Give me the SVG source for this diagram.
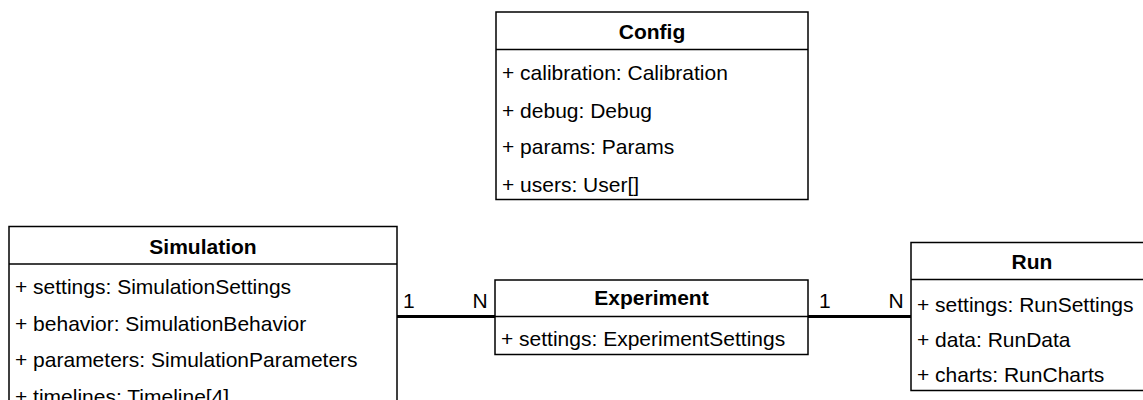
<svg xmlns="http://www.w3.org/2000/svg" width="1143" height="400" viewBox="0 0 1143 400">
<style>
.box{fill:#fff;stroke:#000;stroke-width:1.5}
.div{stroke:#000;stroke-width:1.5}
.t{font-family:"Liberation Sans",Arial,sans-serif;font-size:21px;fill:#000}
.h{font-family:"Liberation Sans",Arial,sans-serif;font-size:21px;font-weight:bold;fill:#000;text-anchor:middle}
.conn{stroke:#000;stroke-width:3;fill:none}
</style>
<rect width="1143" height="400" fill="#fff"/>
<g id="connectors">
<line class="conn" x1="397" y1="316.5" x2="495" y2="316.5"/>
<line class="conn" x1="808" y1="316.5" x2="911" y2="316.5"/>
<text class="t" x="403" y="308">1</text>
<text class="t" x="472.5" y="308">N</text>
<text class="t" x="819" y="308">1</text>
<text class="t" x="888.5" y="308">N</text>
</g>
<g id="config">
<rect class="box" x="496" y="12" width="312" height="187.5"/>
<line class="div" x1="496" y1="49.5" x2="808" y2="49.5"/>
<text class="h" x="652" y="39">Config</text>
<text class="t" x="502" y="80">+ calibration: Calibration</text>
<text class="t" x="502" y="117.5">+ debug: Debug</text>
<text class="t" x="502" y="154">+ params: Params</text>
<text class="t" x="502" y="191.5">+ users: User[]</text>
</g>
<g id="simulation">
<rect class="box" x="9" y="226.5" width="388" height="190"/>
<line class="div" x1="9" y1="264" x2="397" y2="264"/>
<text class="h" x="203" y="253.5">Simulation</text>
<text class="t" x="15" y="293.5">+ settings: SimulationSettings</text>
<text class="t" x="15" y="330.5">+ behavior: SimulationBehavior</text>
<text class="t" x="15" y="367">+ parameters: SimulationParameters</text>
<text class="t" x="15" y="404">+ timelines: Timeline[4]</text>
</g>
<g id="experiment">
<rect class="box" x="495" y="280" width="313" height="74.5"/>
<line class="div" x1="495" y1="316.5" x2="808" y2="316.5"/>
<text class="h" x="651.5" y="305">Experiment</text>
<text class="t" x="501" y="345.5">+ settings: ExperimentSettings</text>
</g>
<g id="run">
<rect class="box" x="911" y="242.5" width="242" height="148"/>
<line class="div" x1="911" y1="279.5" x2="1153" y2="279.5"/>
<text class="h" x="1032" y="268.5">Run</text>
<text class="t" x="917" y="311.5">+ settings: RunSettings</text>
<text class="t" x="917" y="347">+ data: RunData</text>
<text class="t" x="917" y="382">+ charts: RunCharts</text>
</g>
</svg>
